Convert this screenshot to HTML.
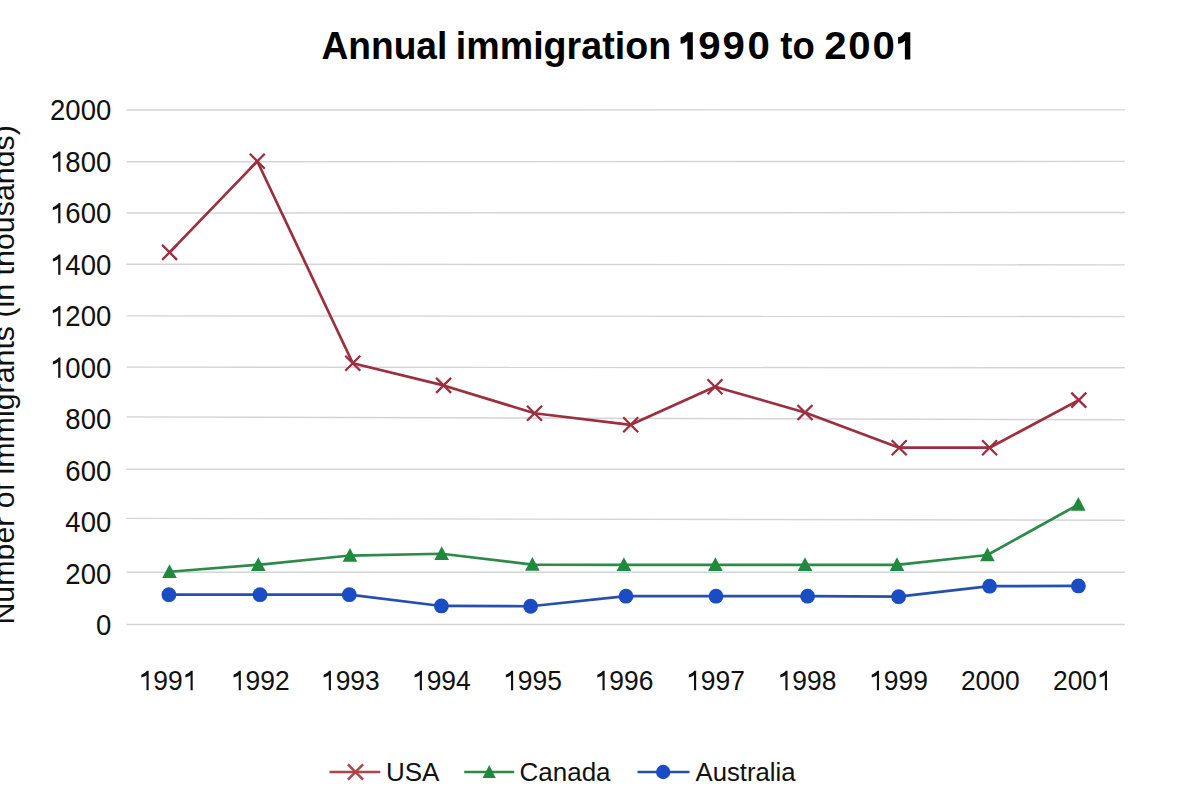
<!DOCTYPE html>
<html><head><meta charset="utf-8"><title>Annual immigration 1990 to 2001</title>
<style>html,body{margin:0;padding:0;background:#fff;overflow:hidden}svg{display:block}</style></head>
<body><svg width="1200" height="800" viewBox="0 0 1200 800" font-family="'Liberation Sans', sans-serif">
<defs><path id="one" d="M772 0H605V1125Q525 1055 425 1005Q325 958 205 930V1140Q360 1200 485 1290Q605 1380 645 1436H772Z"/><path id="oneb" d="M790 0H495V1010Q420 935 320 893Q225 855 125 850V1200Q265 1245 370 1330Q450 1400 495 1476H790Z"/></defs>
<rect width="1200" height="800" fill="#fff"/>
<line x1="126.5" y1="624.50" x2="1124.8" y2="624.50" stroke="#d4d4d4" stroke-width="1.4"/>
<line x1="126.5" y1="572.20" x2="1124.8" y2="572.20" stroke="#d4d4d4" stroke-width="1.4"/>
<line x1="126.5" y1="518.40" x2="1124.8" y2="520.20" stroke="#d4d4d4" stroke-width="1.4"/>
<line x1="126.5" y1="469.30" x2="1124.8" y2="469.30" stroke="#d4d4d4" stroke-width="1.4"/>
<line x1="126.5" y1="416.90" x2="1124.8" y2="419.80" stroke="#d4d4d4" stroke-width="1.4"/>
<line x1="126.5" y1="367.10" x2="1124.8" y2="367.80" stroke="#d4d4d4" stroke-width="1.4"/>
<line x1="126.5" y1="315.90" x2="1124.8" y2="316.60" stroke="#d4d4d4" stroke-width="1.4"/>
<line x1="126.5" y1="264.20" x2="1124.8" y2="264.90" stroke="#d4d4d4" stroke-width="1.4"/>
<line x1="126.5" y1="213.00" x2="1124.8" y2="212.50" stroke="#d4d4d4" stroke-width="1.4"/>
<line x1="126.5" y1="161.80" x2="1124.8" y2="161.40" stroke="#d4d4d4" stroke-width="1.4"/>
<line x1="126.5" y1="110.00" x2="1124.8" y2="109.84" stroke="#d4d4d4" stroke-width="1.4"/>
<text transform="translate(95.96,635.00) scale(1.0,1.05)" font-size="27.5" fill="#111111">0</text>
<text transform="translate(65.37,583.53) scale(1.0,1.05)" font-size="27.5" fill="#111111">2</text>
<text transform="translate(80.66,583.53) scale(1.0,1.05)" font-size="27.5" fill="#111111">0</text>
<text transform="translate(95.96,583.53) scale(1.0,1.05)" font-size="27.5" fill="#111111">0</text>
<text transform="translate(65.37,532.06) scale(1.0,1.05)" font-size="27.5" fill="#111111">4</text>
<text transform="translate(80.66,532.06) scale(1.0,1.05)" font-size="27.5" fill="#111111">0</text>
<text transform="translate(95.96,532.06) scale(1.0,1.05)" font-size="27.5" fill="#111111">0</text>
<text transform="translate(65.37,480.59) scale(1.0,1.05)" font-size="27.5" fill="#111111">6</text>
<text transform="translate(80.66,480.59) scale(1.0,1.05)" font-size="27.5" fill="#111111">0</text>
<text transform="translate(95.96,480.59) scale(1.0,1.05)" font-size="27.5" fill="#111111">0</text>
<text transform="translate(65.37,429.12) scale(1.0,1.05)" font-size="27.5" fill="#111111">8</text>
<text transform="translate(80.66,429.12) scale(1.0,1.05)" font-size="27.5" fill="#111111">0</text>
<text transform="translate(95.96,429.12) scale(1.0,1.05)" font-size="27.5" fill="#111111">0</text>
<use href="#one" transform="translate(50.07,377.65) scale(0.01343,-0.01410)" fill="#111111"/>
<text transform="translate(65.37,377.65) scale(1.0,1.05)" font-size="27.5" fill="#111111">0</text>
<text transform="translate(80.66,377.65) scale(1.0,1.05)" font-size="27.5" fill="#111111">0</text>
<text transform="translate(95.96,377.65) scale(1.0,1.05)" font-size="27.5" fill="#111111">0</text>
<use href="#one" transform="translate(50.07,326.18) scale(0.01343,-0.01410)" fill="#111111"/>
<text transform="translate(65.37,326.18) scale(1.0,1.05)" font-size="27.5" fill="#111111">2</text>
<text transform="translate(80.66,326.18) scale(1.0,1.05)" font-size="27.5" fill="#111111">0</text>
<text transform="translate(95.96,326.18) scale(1.0,1.05)" font-size="27.5" fill="#111111">0</text>
<use href="#one" transform="translate(50.07,274.71) scale(0.01343,-0.01410)" fill="#111111"/>
<text transform="translate(65.37,274.71) scale(1.0,1.05)" font-size="27.5" fill="#111111">4</text>
<text transform="translate(80.66,274.71) scale(1.0,1.05)" font-size="27.5" fill="#111111">0</text>
<text transform="translate(95.96,274.71) scale(1.0,1.05)" font-size="27.5" fill="#111111">0</text>
<use href="#one" transform="translate(50.07,223.24) scale(0.01343,-0.01410)" fill="#111111"/>
<text transform="translate(65.37,223.24) scale(1.0,1.05)" font-size="27.5" fill="#111111">6</text>
<text transform="translate(80.66,223.24) scale(1.0,1.05)" font-size="27.5" fill="#111111">0</text>
<text transform="translate(95.96,223.24) scale(1.0,1.05)" font-size="27.5" fill="#111111">0</text>
<use href="#one" transform="translate(50.07,171.77) scale(0.01343,-0.01410)" fill="#111111"/>
<text transform="translate(65.37,171.77) scale(1.0,1.05)" font-size="27.5" fill="#111111">8</text>
<text transform="translate(80.66,171.77) scale(1.0,1.05)" font-size="27.5" fill="#111111">0</text>
<text transform="translate(95.96,171.77) scale(1.0,1.05)" font-size="27.5" fill="#111111">0</text>
<text transform="translate(50.07,120.30) scale(1.0,1.05)" font-size="27.5" fill="#111111">2</text>
<text transform="translate(65.37,120.30) scale(1.0,1.05)" font-size="27.5" fill="#111111">0</text>
<text transform="translate(80.66,120.30) scale(1.0,1.05)" font-size="27.5" fill="#111111">0</text>
<text transform="translate(95.96,120.30) scale(1.0,1.05)" font-size="27.5" fill="#111111">0</text>
<use href="#one" transform="translate(138.69,690.20) scale(0.01289,-0.01354)" fill="#111111"/>
<text transform="translate(153.37,690.20) scale(1.0,1.05)" font-size="26.4" fill="#111111">9</text>
<text transform="translate(168.05,690.20) scale(1.0,1.05)" font-size="26.4" fill="#111111">9</text>
<use href="#one" transform="translate(182.73,690.20) scale(0.01289,-0.01354)" fill="#111111"/>
<use href="#one" transform="translate(230.89,690.20) scale(0.01289,-0.01354)" fill="#111111"/>
<text transform="translate(245.57,690.20) scale(1.0,1.05)" font-size="26.4" fill="#111111">9</text>
<text transform="translate(260.25,690.20) scale(1.0,1.05)" font-size="26.4" fill="#111111">9</text>
<text transform="translate(274.93,690.20) scale(1.0,1.05)" font-size="26.4" fill="#111111">2</text>
<use href="#one" transform="translate(320.99,690.20) scale(0.01289,-0.01354)" fill="#111111"/>
<text transform="translate(335.67,690.20) scale(1.0,1.05)" font-size="26.4" fill="#111111">9</text>
<text transform="translate(350.35,690.20) scale(1.0,1.05)" font-size="26.4" fill="#111111">9</text>
<text transform="translate(365.03,690.20) scale(1.0,1.05)" font-size="26.4" fill="#111111">3</text>
<use href="#one" transform="translate(411.99,690.20) scale(0.01289,-0.01354)" fill="#111111"/>
<text transform="translate(426.67,690.20) scale(1.0,1.05)" font-size="26.4" fill="#111111">9</text>
<text transform="translate(441.35,690.20) scale(1.0,1.05)" font-size="26.4" fill="#111111">9</text>
<text transform="translate(456.03,690.20) scale(1.0,1.05)" font-size="26.4" fill="#111111">4</text>
<use href="#one" transform="translate(503.19,690.20) scale(0.01289,-0.01354)" fill="#111111"/>
<text transform="translate(517.87,690.20) scale(1.0,1.05)" font-size="26.4" fill="#111111">9</text>
<text transform="translate(532.55,690.20) scale(1.0,1.05)" font-size="26.4" fill="#111111">9</text>
<text transform="translate(547.23,690.20) scale(1.0,1.05)" font-size="26.4" fill="#111111">5</text>
<use href="#one" transform="translate(594.69,690.20) scale(0.01289,-0.01354)" fill="#111111"/>
<text transform="translate(609.37,690.20) scale(1.0,1.05)" font-size="26.4" fill="#111111">9</text>
<text transform="translate(624.05,690.20) scale(1.0,1.05)" font-size="26.4" fill="#111111">9</text>
<text transform="translate(638.73,690.20) scale(1.0,1.05)" font-size="26.4" fill="#111111">6</text>
<use href="#one" transform="translate(686.19,690.20) scale(0.01289,-0.01354)" fill="#111111"/>
<text transform="translate(700.87,690.20) scale(1.0,1.05)" font-size="26.4" fill="#111111">9</text>
<text transform="translate(715.55,690.20) scale(1.0,1.05)" font-size="26.4" fill="#111111">9</text>
<text transform="translate(730.23,690.20) scale(1.0,1.05)" font-size="26.4" fill="#111111">7</text>
<use href="#one" transform="translate(777.59,690.20) scale(0.01289,-0.01354)" fill="#111111"/>
<text transform="translate(792.27,690.20) scale(1.0,1.05)" font-size="26.4" fill="#111111">9</text>
<text transform="translate(806.95,690.20) scale(1.0,1.05)" font-size="26.4" fill="#111111">9</text>
<text transform="translate(821.63,690.20) scale(1.0,1.05)" font-size="26.4" fill="#111111">8</text>
<use href="#one" transform="translate(869.09,690.20) scale(0.01289,-0.01354)" fill="#111111"/>
<text transform="translate(883.77,690.20) scale(1.0,1.05)" font-size="26.4" fill="#111111">9</text>
<text transform="translate(898.45,690.20) scale(1.0,1.05)" font-size="26.4" fill="#111111">9</text>
<text transform="translate(913.13,690.20) scale(1.0,1.05)" font-size="26.4" fill="#111111">9</text>
<text transform="translate(960.89,690.20) scale(1.0,1.05)" font-size="26.4" fill="#111111">2</text>
<text transform="translate(975.57,690.20) scale(1.0,1.05)" font-size="26.4" fill="#111111">0</text>
<text transform="translate(990.25,690.20) scale(1.0,1.05)" font-size="26.4" fill="#111111">0</text>
<text transform="translate(1004.93,690.20) scale(1.0,1.05)" font-size="26.4" fill="#111111">0</text>
<text transform="translate(1052.99,690.20) scale(1.0,1.05)" font-size="26.4" fill="#111111">2</text>
<text transform="translate(1067.67,690.20) scale(1.0,1.05)" font-size="26.4" fill="#111111">0</text>
<text transform="translate(1082.35,690.20) scale(1.0,1.05)" font-size="26.4" fill="#111111">0</text>
<use href="#one" transform="translate(1097.03,690.20) scale(0.01289,-0.01354)" fill="#111111"/>
<polyline points="168.9,594.65 260.0,594.65 349.3,594.65 441.4,605.97 530.6,606.23 626.0,596.19 716.0,596.19 807.6,596.19 898.6,596.71 989.6,586.15 1078.4,585.90" fill="none" stroke="#2650ac" stroke-width="2.7" stroke-linejoin="round"/>
<polyline points="169.5,571.74 258.3,564.79 350.0,555.53 441.7,553.73 532.4,564.54 623.9,564.79 715.4,564.79 805.0,564.79 897.0,564.79 987.4,555.02 1078.3,504.57" fill="none" stroke="#2d8a48" stroke-width="2.7" stroke-linejoin="round"/>
<polyline points="169.6,252.37 257.3,161.27 352.8,363.29 443.6,385.42 534.5,413.22 630.7,424.80 715.0,386.71 805.0,412.44 899.2,447.70 989.6,447.70 1078.8,400.09" fill="none" stroke="#9c2f3e" stroke-width="2.7" stroke-linejoin="round"/>
<circle cx="168.9" cy="594.65" r="7.4" fill="#1a4cc4"/>
<circle cx="260.0" cy="594.65" r="7.4" fill="#1a4cc4"/>
<circle cx="349.3" cy="594.65" r="7.4" fill="#1a4cc4"/>
<circle cx="441.4" cy="605.97" r="7.4" fill="#1a4cc4"/>
<circle cx="530.6" cy="606.23" r="7.4" fill="#1a4cc4"/>
<circle cx="626.0" cy="596.19" r="7.4" fill="#1a4cc4"/>
<circle cx="716.0" cy="596.19" r="7.4" fill="#1a4cc4"/>
<circle cx="807.6" cy="596.19" r="7.4" fill="#1a4cc4"/>
<circle cx="898.6" cy="596.71" r="7.4" fill="#1a4cc4"/>
<circle cx="989.6" cy="586.15" r="7.4" fill="#1a4cc4"/>
<circle cx="1078.4" cy="585.90" r="7.4" fill="#1a4cc4"/>
<polygon points="169.5,564.14 176.8,577.94 162.2,577.94" fill="#1f8a3e"/>
<polygon points="258.3,557.19 265.6,570.99 251.0,570.99" fill="#1f8a3e"/>
<polygon points="350.0,547.93 357.3,561.73 342.7,561.73" fill="#1f8a3e"/>
<polygon points="441.7,546.13 449.0,559.93 434.4,559.93" fill="#1f8a3e"/>
<polygon points="532.4,556.94 539.7,570.74 525.1,570.74" fill="#1f8a3e"/>
<polygon points="623.9,557.19 631.2,570.99 616.6,570.99" fill="#1f8a3e"/>
<polygon points="715.4,557.19 722.7,570.99 708.1,570.99" fill="#1f8a3e"/>
<polygon points="805.0,557.19 812.3,570.99 797.7,570.99" fill="#1f8a3e"/>
<polygon points="897.0,557.19 904.3,570.99 889.7,570.99" fill="#1f8a3e"/>
<polygon points="987.4,547.42 994.7,561.22 980.1,561.22" fill="#1f8a3e"/>
<polygon points="1078.3,496.97 1085.6,510.77 1071.0,510.77" fill="#1f8a3e"/>
<path d="M162.1,244.87L177.1,259.87M177.1,244.87L162.1,259.87" stroke="#a02c3e" stroke-width="2.3" fill="none"/>
<path d="M249.8,153.77L264.8,168.77M264.8,153.77L249.8,168.77" stroke="#a02c3e" stroke-width="2.3" fill="none"/>
<path d="M345.3,355.79L360.3,370.79M360.3,355.79L345.3,370.79" stroke="#a02c3e" stroke-width="2.3" fill="none"/>
<path d="M436.1,377.92L451.1,392.92M451.1,377.92L436.1,392.92" stroke="#a02c3e" stroke-width="2.3" fill="none"/>
<path d="M527.0,405.72L542.0,420.72M542.0,405.72L527.0,420.72" stroke="#a02c3e" stroke-width="2.3" fill="none"/>
<path d="M623.2,417.30L638.2,432.30M638.2,417.30L623.2,432.30" stroke="#a02c3e" stroke-width="2.3" fill="none"/>
<path d="M707.5,379.21L722.5,394.21M722.5,379.21L707.5,394.21" stroke="#a02c3e" stroke-width="2.3" fill="none"/>
<path d="M797.5,404.94L812.5,419.94M812.5,404.94L797.5,419.94" stroke="#a02c3e" stroke-width="2.3" fill="none"/>
<path d="M891.7,440.20L906.7,455.20M906.7,440.20L891.7,455.20" stroke="#a02c3e" stroke-width="2.3" fill="none"/>
<path d="M982.1,440.20L997.1,455.20M997.1,440.20L982.1,455.20" stroke="#a02c3e" stroke-width="2.3" fill="none"/>
<path d="M1071.3,392.59L1086.3,407.59M1086.3,392.59L1071.3,407.59" stroke="#a02c3e" stroke-width="2.3" fill="none"/>
<text transform="translate(321.51,59.4) scale(0.9879,1.04)" x="0" y="0" font-size="37.6" font-weight="bold" fill="#000">Annual</text>
<text transform="translate(455.75,59.4) scale(1.0012,1.04)" x="0" y="0" font-size="37.6" font-weight="bold" fill="#000">immigration</text>
<text transform="translate(780.25,59.4) scale(0.9706,1.04)" x="0" y="0" font-size="37.6" font-weight="bold" fill="#000">to</text>
<text transform="translate(698.22,59.4) scale(1.07,1.04)" x="0" y="0" font-size="37.6" font-weight="bold" fill="#000">9</text>
<text transform="translate(722.56,59.4) scale(1.07,1.04)" x="0" y="0" font-size="37.6" font-weight="bold" fill="#000">9</text>
<text transform="translate(747.60,59.4) scale(1.07,1.04)" x="0" y="0" font-size="37.6" font-weight="bold" fill="#000">0</text>
<text transform="translate(824.16,59.4) scale(1.07,1.04)" x="0" y="0" font-size="37.6" font-weight="bold" fill="#000">2</text>
<text transform="translate(848.25,59.4) scale(1.07,1.04)" x="0" y="0" font-size="37.6" font-weight="bold" fill="#000">0</text>
<text transform="translate(872.60,59.4) scale(1.07,1.04)" x="0" y="0" font-size="37.6" font-weight="bold" fill="#000">0</text>
<use href="#oneb" transform="translate(678.30,59.4) scale(0.01836,-0.01836)" fill="#000"/>
<use href="#oneb" transform="translate(895.80,59.4) scale(0.01836,-0.01836)" fill="#000"/>
<text transform="translate(14,624.6) rotate(-90)" x="0" y="0" font-size="30.36" fill="#111111">Number of immigrants (in thousands)</text>
<line x1="329.5" y1="772.0" x2="380.3" y2="772.0" stroke="#b0424a" stroke-width="2.6"/>
<path d="M347.9,764.40L363.1,779.60M363.1,764.40L347.9,779.60" stroke="#b0424a" stroke-width="2.4" fill="none"/>
<text x="386" y="780.5" font-size="26" fill="#111111">USA</text>
<line x1="464.2" y1="772.0" x2="514.2" y2="772.0" stroke="#2d8a48" stroke-width="2.6"/>
<polygon points="489.2,765 495.8,778 482.6,778" fill="#1f8a3e"/>
<text x="519.5" y="780.5" font-size="26" fill="#111111">Canada</text>
<line x1="637.5" y1="772.0" x2="689.5" y2="772.0" stroke="#2650ac" stroke-width="2.6"/>
<circle cx="663.2" cy="772.0" r="7.2" fill="#1a4cc4"/>
<text x="695.5" y="780.5" font-size="25.7" fill="#111111">Australia</text>
</svg></body></html>
